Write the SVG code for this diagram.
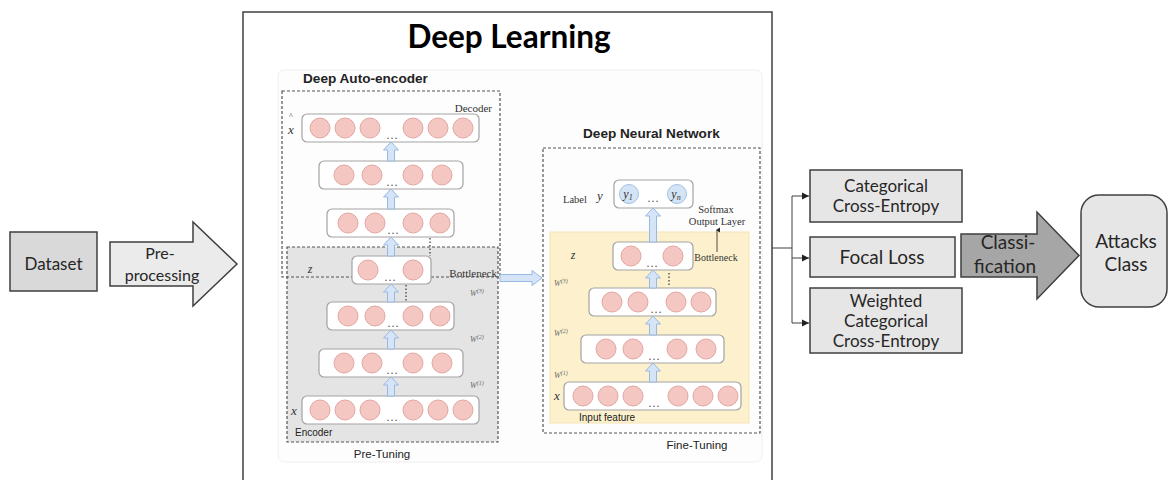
<svg xmlns="http://www.w3.org/2000/svg" width="1170" height="480" viewBox="0 0 1170 480">
<defs>
<style>
.box{fill:#e6e6e6;stroke:#3f3f3f;stroke-width:1.5}
.lay{fill:#ffffff;stroke:#a3a3a3;stroke-width:1.2}
.n{fill:#f4c7c3;stroke:#e2a7a2;stroke-width:1}
.nb{fill:#d3e4f5;stroke:#a3c3e6;stroke-width:1}
.ba{fill:#d5e4f7;stroke:#98b9e3;stroke-width:1}
.dash{fill:none;stroke:#555;stroke-width:1.2;stroke-dasharray:3 2}
.cal{font-family:Lato,"Liberation Sans",sans-serif;fill:#262626}
.ser{font-family:"Liberation Serif","Times New Roman",serif;fill:#333}
.ari{font-family:"Liberation Sans",Arial,sans-serif;fill:#222}
.dots{font-family:"Liberation Serif",serif;font-size:12px;fill:#555;text-anchor:middle}
.w{font-family:"Liberation Serif",serif;font-style:italic;font-size:8px;fill:#666}
.con{fill:none;stroke:#404040;stroke-width:1}
</style>
<marker id="ah" markerWidth="8" markerHeight="8" refX="7" refY="4" orient="auto" markerUnits="userSpaceOnUse">
<path d="M0,0.5 L7,4 L0,7.5 Z" fill="#222"/>
</marker>
<marker id="sa" markerWidth="6" markerHeight="6" refX="3" refY="1" orient="auto-start-reverse" markerUnits="userSpaceOnUse">
<path d="M0.5,4 L3,0 L5.5,4 Z" fill="#222"/>
</marker>
</defs>
<rect width="1170" height="480" fill="#ffffff"/>

<g id="dataset">
<rect class="box" x="10" y="232" width="87" height="59" style="fill:#d9d9d9"/>
<text class="cal" x="53.5" y="270" font-size="17" text-anchor="middle">Dataset</text>
</g>

<g id="preprocessing">
<path class="box" style="fill:#ebebeb" d="M110,242 H193 V222 L237,264 L193,306 V286 H110 Z"/>
<text class="cal" x="160" y="259" font-size="16" text-anchor="middle">Pre-</text>
<text class="cal" x="162" y="281" font-size="16" text-anchor="middle">processing</text>
</g>

<g id="deep-learning">
<rect x="243" y="12" width="529" height="480" fill="#ffffff" stroke="#404040" stroke-width="1.5"/>
<text class="cal" x="509" y="48" font-size="31.5" font-weight="bold" text-anchor="middle" style="fill:#000">Deep Learning</text>
<rect x="278" y="70" width="484" height="392" rx="6" fill="#fdfdfd" stroke="#eeeeee"/>
</g>

<g id="autoencoder">
<text class="ari" x="303" y="83" font-size="13.6" font-weight="bold">Deep Auto-encoder</text>
<rect x="287" y="247" width="211" height="195" fill="#e4e4e4" stroke="#555" stroke-width="1.2" stroke-dasharray="3 2"/>
<rect class="dash" x="282" y="91" width="218" height="186"/>
<text class="ser" x="492" y="112" font-size="11" text-anchor="end">Decoder</text>
<text class="ser" x="497" y="277" font-size="11" text-anchor="end">Bottleneck</text>
<text class="ari" x="295" y="436" font-size="10">Encoder</text>
<text class="ari" x="382" y="458" font-size="11.5" text-anchor="middle">Pre-Tuning</text>
<text class="ser" x="291" y="119" font-size="8" text-anchor="middle">^</text>
<text class="ser" x="291" y="134" font-size="13" font-style="italic" text-anchor="middle">x</text>
<text class="ser" x="310" y="273" font-size="12" font-style="italic" text-anchor="middle">z</text>
<text class="ser" x="294" y="415" font-size="13" font-style="italic" text-anchor="middle">x</text>
<text class="w" x="470" y="296">W<tspan font-size="6" dy="-3">(3)</tspan></text>
<text class="w" x="470" y="342">W<tspan font-size="6" dy="-3">(2)</tspan></text>
<text class="w" x="470" y="388">W<tspan font-size="6" dy="-3">(1)</tspan></text>
<path d="M430,238 V256 M406,285 V301" stroke="#333" stroke-width="1.2" stroke-dasharray="1.5 2" fill="none"/>
<rect class="lay" x="302" y="114" width="177" height="28" rx="5"/>
<circle class="n" cx="320" cy="128" r="10"/><circle class="n" cx="345" cy="128" r="10"/><circle class="n" cx="370" cy="128" r="10"/>
<circle class="n" cx="413" cy="128" r="10"/><circle class="n" cx="438" cy="128" r="10"/><circle class="n" cx="463" cy="128" r="10"/>
<text class="dots" x="392" y="139">…</text>
<rect class="lay" x="319" y="161" width="144" height="28" rx="5"/>
<circle class="n" cx="344" cy="175" r="10"/><circle class="n" cx="372" cy="175" r="10"/><circle class="n" cx="413" cy="175" r="10"/><circle class="n" cx="442" cy="175" r="10"/>
<text class="dots" x="392" y="186">…</text>
<rect class="lay" x="327" y="209" width="127" height="28" rx="5"/>
<circle class="n" cx="348" cy="223" r="10"/><circle class="n" cx="375" cy="223" r="10"/><circle class="n" cx="413" cy="223" r="10"/><circle class="n" cx="440" cy="223" r="10"/>
<text class="dots" x="393" y="234">…</text>
<rect class="lay" x="352" y="256" width="79" height="28" rx="5"/>
<circle class="n" cx="368" cy="270" r="10"/><circle class="n" cx="413" cy="270" r="10"/>
<text class="dots" x="390" y="281">…</text>
<rect class="lay" x="327" y="302" width="127" height="28" rx="5"/>
<circle class="n" cx="348" cy="316" r="10"/><circle class="n" cx="375" cy="316" r="10"/><circle class="n" cx="413" cy="316" r="10"/><circle class="n" cx="440" cy="316" r="10"/>
<text class="dots" x="393" y="327">…</text>
<rect class="lay" x="319" y="349" width="144" height="28" rx="5"/>
<circle class="n" cx="344" cy="363" r="10"/><circle class="n" cx="372" cy="363" r="10"/><circle class="n" cx="413" cy="363" r="10"/><circle class="n" cx="442" cy="363" r="10"/>
<text class="dots" x="392" y="374">…</text>
<rect class="lay" x="302" y="396" width="177" height="28" rx="5"/>
<circle class="n" cx="320" cy="410" r="10"/><circle class="n" cx="345" cy="410" r="10"/><circle class="n" cx="370" cy="410" r="10"/>
<circle class="n" cx="413" cy="410" r="10"/><circle class="n" cx="438" cy="410" r="10"/><circle class="n" cx="463" cy="410" r="10"/>
<text class="dots" x="392" y="421">…</text>
<path class="ba" d="M387.5,396 V385 H383.5 L391,377 L398.5,385 H394.5 V396 Z"/>
<path class="ba" d="M387.5,349 V338 H383.5 L391,330 L398.5,338 H394.5 V349 Z"/>
<path class="ba" d="M387.5,302 V292 H383.5 L391,284 L398.5,292 H394.5 V302 Z"/>
<path class="ba" d="M387.5,256 V245 H383.5 L391,237 L398.5,245 H394.5 V256 Z"/>
<path class="ba" d="M387.5,209 V197 H383.5 L391,189 L398.5,197 H394.5 V209 Z"/>
<path class="ba" d="M387.5,161 V150 H383.5 L391,142 L398.5,150 H394.5 V161 Z"/>
</g>

<g id="dnn">
<text class="ari" x="583" y="138" font-size="13.6" font-weight="bold">Deep Neural Network</text>
<rect class="dash" x="543" y="148" width="217" height="285"/>
<rect x="550" y="232" width="199" height="191" fill="#fdf1cd" stroke="#f3e4b3" stroke-width="1"/>
<text class="ari" x="697" y="449" font-size="11.5" text-anchor="middle">Fine-Tuning</text>
<text class="ser" x="563" y="203" font-size="10.5">Label</text>
<text class="ser" x="597" y="200" font-size="13" font-style="italic">y</text>
<text class="ser" x="716" y="213" font-size="10.5" text-anchor="middle">Softmax</text>
<text class="ser" x="717" y="225" font-size="10.5" text-anchor="middle">Output Layer</text>
<text class="ser" x="716" y="261" font-size="10" text-anchor="middle">Bottleneck</text>
<line x1="717" y1="252" x2="717" y2="230" stroke="#222" stroke-width="0.8" marker-end="url(#sa)"/>
<text class="ser" x="573" y="259" font-size="12" font-style="italic" text-anchor="middle">z</text>
<text class="ser" x="557" y="400" font-size="13" font-style="italic" text-anchor="middle">x</text>
<text class="w" x="554" y="286">W<tspan font-size="6" dy="-3">(3)</tspan></text>
<text class="w" x="554" y="336">W<tspan font-size="6" dy="-3">(2)</tspan></text>
<text class="w" x="554" y="378">W<tspan font-size="6" dy="-3">(1)</tspan></text>
<text class="ari" x="579" y="421" font-size="10">Input feature</text>
<path d="M669,273 V287" stroke="#333" stroke-width="1.2" stroke-dasharray="1.5 2" fill="none"/>
<rect class="lay" x="614" y="180" width="79" height="28" rx="5"/>
<circle class="nb" cx="629" cy="194" r="9.5"/><circle class="nb" cx="677" cy="194" r="9.5"/>
<text class="ser" x="628" y="198" font-size="12" font-style="italic" text-anchor="middle">y<tspan font-size="8" dy="2">1</tspan></text>
<text class="ser" x="676" y="198" font-size="12" font-style="italic" text-anchor="middle">y<tspan font-size="8" dy="2">n</tspan></text>
<text class="dots" x="653" y="202">…</text>
<rect class="lay" x="613" y="242" width="80" height="28" rx="5"/>
<circle class="n" cx="631" cy="256" r="10"/><circle class="n" cx="673" cy="256" r="10"/>
<text class="dots" x="652" y="267">…</text>
<rect class="lay" x="589" y="288" width="127" height="28" rx="5"/>
<circle class="n" cx="612" cy="302" r="10"/><circle class="n" cx="638" cy="302" r="10"/><circle class="n" cx="676" cy="302" r="10"/><circle class="n" cx="701" cy="302" r="10"/>
<text class="dots" x="656" y="313">…</text>
<rect class="lay" x="581" y="335" width="143" height="28" rx="5"/>
<circle class="n" cx="606" cy="349" r="10"/><circle class="n" cx="633" cy="349" r="10"/><circle class="n" cx="677" cy="349" r="10"/><circle class="n" cx="706" cy="349" r="10"/>
<text class="dots" x="654" y="360">…</text>
<rect class="lay" x="564" y="382" width="177" height="28" rx="5"/>
<circle class="n" cx="583" cy="396" r="10"/><circle class="n" cx="608" cy="396" r="10"/><circle class="n" cx="633" cy="396" r="10"/>
<circle class="n" cx="678" cy="396" r="10"/><circle class="n" cx="703" cy="396" r="10"/><circle class="n" cx="728" cy="396" r="10"/>
<text class="dots" x="654" y="407">…</text>
<path class="ba" d="M649.5,382 V371 H645.5 L653,363 L660.5,371 H656.5 V382 Z"/>
<path class="ba" d="M649.5,335 V324 H645.5 L653,316 L660.5,324 H656.5 V335 Z"/>
<path class="ba" d="M649.5,288 V278 H645.5 L653,270 L660.5,278 H656.5 V288 Z"/>
<path class="ba" d="M649.5,242 V216 H645.5 L653,208 L660.5,216 H656.5 V242 Z"/>
</g>

<g id="connectors">
<path class="ba" d="M500,274.5 H532 V270.5 L542,278 L532,285.5 V281.5 H500 Z"/>
<path class="con" d="M772,248 H792 M792,196 V323"/>
<path class="con" d="M792,196 H809" marker-end="url(#ah)"/>
<path class="con" d="M792,258 H809" marker-end="url(#ah)"/>
<path class="con" d="M792,323 H809" marker-end="url(#ah)"/>
</g>

<g id="cce">
<rect class="box" x="810" y="170" width="152" height="52"/>
<text class="cal" x="886" y="192" font-size="17" text-anchor="middle">Categorical</text>
<text class="cal" x="886" y="212" font-size="17" text-anchor="middle">Cross-Entropy</text>
</g>

<g id="focal">
<rect class="box" x="810" y="237" width="145" height="40"/>
<text class="cal" x="882" y="264" font-size="19" text-anchor="middle">Focal Loss</text>
</g>

<g id="wcce">
<rect class="box" x="810" y="288" width="152" height="65"/>
<text class="cal" x="886" y="307" font-size="17" text-anchor="middle">Weighted</text>
<text class="cal" x="886" y="327" font-size="17" text-anchor="middle">Categorical</text>
<text class="cal" x="886" y="347" font-size="17" text-anchor="middle">Cross-Entropy</text>
</g>

<g id="classification">
<path class="box" style="fill:#a6a6a6" d="M961,234 H1037 V212 L1079,255.5 L1037,299 V277 H961 Z"/>
<text class="cal" x="1008" y="249" font-size="19" text-anchor="middle">Classi-</text>
<text class="cal" x="1005" y="273" font-size="19" text-anchor="middle">fication</text>
</g>

<g id="attacks">
<rect class="box" x="1081" y="195" width="86" height="112" rx="18"/>
<text class="cal" x="1126" y="248" font-size="19" text-anchor="middle">Attacks</text>
<text class="cal" x="1126" y="271" font-size="19" text-anchor="middle">Class</text>
</g>
</svg>
